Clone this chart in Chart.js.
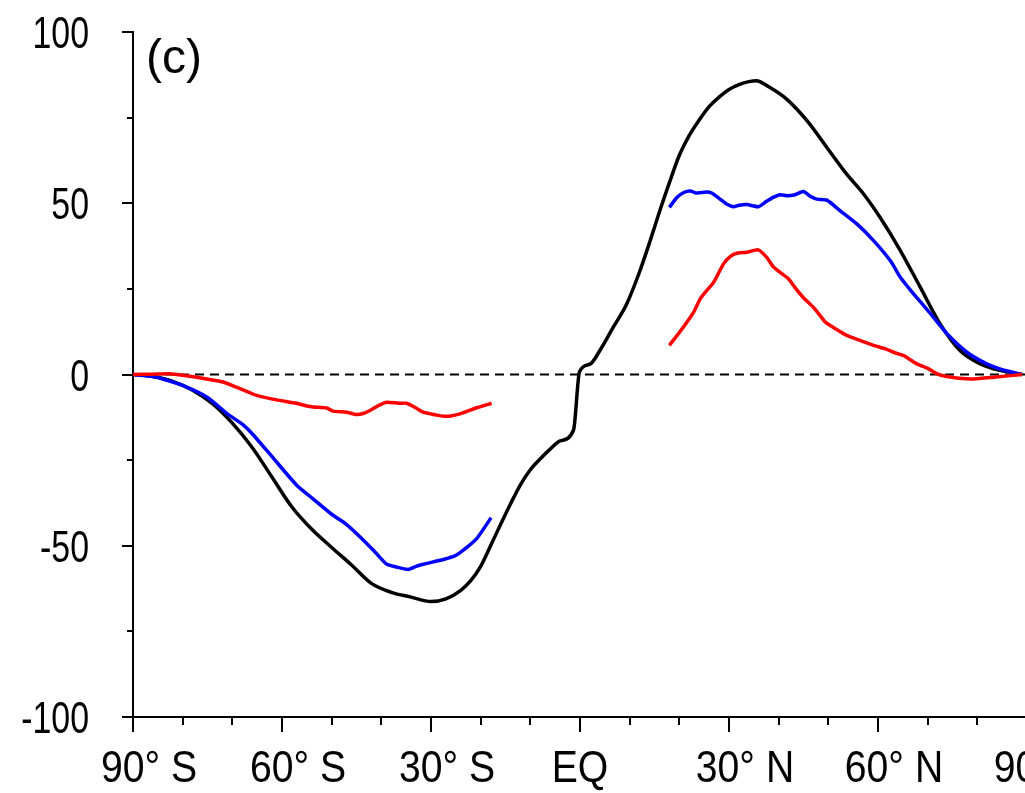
<!DOCTYPE html>
<html>
<head>
<meta charset="utf-8">
<script src="https://cdn.jsdelivr.net/npm/chart.js@4"></script>
<style>
  html, body { margin: 0; padding: 0; background: #fff; overflow: hidden; }
  #wrap { width: 1100px; height: 793px; position: relative; }
</style>
</head>
<body>
<div id="wrap"><canvas id="c"></canvas></div>
<script>
// ---- data (latitude in degrees, negative = south) ----
const xTickValues = [-90, -60, -30, 0, 30, 60, 90];
const xTickLabels = ["90° S", "60° S", "30° S", "EQ", "30° N", "60° N", "90° N"];
const yTickValues = [-100, -50, 0, 50, 100];
const yTickLabels = ["-100", "-50", "0", "50", "100"];

const blackLat = [-90,-86,-82,-78,-74,-70,-66,-62,-58,-54,-50,-46,-42,-38,-34,-30,-27,-24,-22,-20,-18,-16,-14,-12,-10,-8,-6,-4,-1.3,-0.1,2,4,6.7,9.4,12,14,16,18,20,22,24,26,28,30,32,34,35.5,38,41.6,45.7,49.7,53.7,57.1,60.4,64.5,68.5,72.5,76.5,80.6,84.6,89];
const blackVal = [0,-0.6,-2.0,-4.6,-8.5,-14.2,-21.3,-30.0,-38.7,-45.2,-50.5,-55.6,-61.0,-63.6,-65.0,-66.3,-65.5,-63.0,-60.2,-56.0,-50.0,-43.8,-37.8,-32.2,-27.8,-24.6,-21.8,-19.4,-16.2,0.8,3.0,7.0,13.8,20.6,30.0,38.5,47.5,56.0,64.0,69.8,74.3,78.2,81.0,83.2,84.6,85.5,85.8,84.0,80.4,74.1,66.3,58.5,52.7,45.9,36.2,25.5,14.8,7.0,3.1,1.2,0];

const blueLatS = [-90,-86,-84,-80,-75,-71,-68,-66,-62,-57,-54,-50,-47,-45,-41.6,-39,-37,-34.6,-33,-31.6,-27.5,-25,-23.5,-20.8,-17.9];
const blueValS = [0,-0.6,-1.3,-3.2,-6.7,-11.5,-14.5,-17.3,-24.0,-32.4,-36.0,-40.8,-43.8,-46.4,-51.3,-55.3,-56.2,-56.9,-56.0,-55.4,-54.0,-52.8,-51.3,-47.9,-41.8];
const blueLatN = [18.0,19.5,21,22.2,23.3,24.2,25.5,26.5,28.2,29.5,30.9,32,33.6,35.9,37.5,38.9,40.3,41.7,43.3,45.0,46.4,47.7,49.7,52.4,55.8,59.1,62.5,64.5,66,67.2,70.6,73.9,77.9,81.9,85,89];
const blueValN = [48.8,51.7,53.2,53.6,53.0,53.1,53.3,53.0,51.2,49.8,49.0,49.4,49.6,49.0,50.5,51.7,52.5,52.2,52.5,53.4,52.0,51.2,50.9,47.8,43.9,39.1,33.2,28.4,25.6,23.5,17.7,11.9,6.5,3.1,1.4,0];

const redLatS = [-90,-86,-82.6,-77.2,-71.9,-69.2,-67,-65.1,-61.1,-57.1,-55,-53.7,-51,-49.7,-47,-45,-43.5,-42.3,-40.5,-38.9,-36.5,-34.9,-33,-31.6,-29,-27.5,-26,-24.2,-22.5,-20.8,-17.8];
const redValS = [0,0.1,0.2,-0.8,-2.2,-3.7,-5.0,-6.1,-7.4,-8.4,-9.2,-9.5,-9.8,-10.7,-11.0,-11.7,-11.3,-10.5,-9.0,-8.1,-8.4,-8.4,-9.8,-11.0,-11.8,-12.2,-12.1,-11.5,-10.6,-9.7,-8.4];
const redLatN = [18.0,20.8,23,24.2,25.5,26.9,28.9,30.3,31.6,33.6,35.9,37.6,38.9,40.3,42.0,43.5,45.0,47.0,48.3,49.4,51.5,53.7,56.5,59.1,61.5,63.1,65.2,66.5,67.8,70,71.9,73.9,75.9,79.3,83.3,89];
const redValN = [8.5,13.8,18.5,22.1,24.5,26.9,32.3,34.5,35.4,35.7,36.4,34.2,31.5,29.8,27.9,25.0,22.4,19.6,17.3,15.3,13.3,11.4,9.9,8.5,7.5,6.5,5.5,4.3,3.1,1.8,0.2,-0.6,-1.0,-1.3,-0.8,0];

const zeroLat = [-89.6, 90];
const zeroVal = [0, 0];
const panelLabel = "(c)";

// ---- build ----
const pts = (xs, ys) => xs.map((x, i) => ({ x: x, y: ys[i] }));
const withGap = (xa, ya, xb, yb) => pts(xa, ya).concat([{ x: 0, y: null }], pts(xb, yb));

const FONT = "'Liberation Sans', Arial, sans-serif";

function drawText(ctx, text, x, y, align, size, sx) {
  ctx.save();
  ctx.font = size + "px " + FONT;
  ctx.textBaseline = 'alphabetic';
  ctx.textAlign = 'left';
  const w = ctx.measureText(text).width * sx;
  let left = x;
  if (align === 'right') left = x - w;
  else if (align === 'center') left = x - w / 2;
  ctx.translate(left, y);
  ctx.scale(sx, 1);
  ctx.fillText(text, 0, 0);
  ctx.restore();
}

const axisDecor = {
  id: 'axisDecor',
  afterDraw(chart) {
    const ctx = chart.ctx;
    const xs = chart.scales.x, ys = chart.scales.y;
    const area = chart.chartArea;
    ctx.save();
    ctx.strokeStyle = '#000';
    ctx.fillStyle = '#000';
    ctx.lineWidth = 2;
    ctx.beginPath();
    for (let v = -90; v <= 90; v += 10) {
      const px = Math.round(xs.getPixelForValue(v));
      const len = (v % 30 === 0) ? 15 : 8;
      ctx.moveTo(px, area.bottom);
      ctx.lineTo(px, area.bottom + len);
    }
    for (let v = -100; v <= 100; v += 25) {
      const py = Math.round(ys.getPixelForValue(v));
      const len = (v % 50 === 0) ? 11 : 6;
      ctx.moveTo(area.left, py);
      ctx.lineTo(area.left - len, py);
    }
    ctx.stroke();
    xTickValues.forEach((v, i) => {
      const lbl = xTickLabels[i];
      const shift = lbl.indexOf('°') >= 0 ? 16 : 0;
      drawText(ctx, lbl, xs.getPixelForValue(v) + shift, area.bottom + 65, 'center', 44, 0.89);
    });
    yTickValues.forEach((v, i) => {
      drawText(ctx, yTickLabels[i], area.left - 44, ys.getPixelForValue(v) + 16, 'right', 44, 0.77);
    });
    drawText(ctx, panelLabel, area.left + 13, area.top + 41, 'left', 48, 1.0);
    ctx.restore();
  }
};

new Chart(document.getElementById('c'), {
  type: 'line',
  data: {
    datasets: [
      { label: 'red', data: withGap(redLatS, redValS, redLatN, redValN), borderColor: '#ff0000', borderWidth: 3.5, pointRadius: 0, tension: 0.2, spanGaps: false },
      { label: 'blue', data: withGap(blueLatS, blueValS, blueLatN, blueValN), borderColor: '#0000ff', borderWidth: 3.5, pointRadius: 0, tension: 0.2, spanGaps: false },
      { label: 'black', data: pts(blackLat, blackVal), borderColor: '#000000', borderWidth: 3.5, pointRadius: 0, cubicInterpolationMode: 'monotone' },
      { label: 'zero', data: pts(zeroLat, zeroVal), borderColor: '#000000', borderWidth: 2, borderDash: [9, 6], pointRadius: 0 }
    ]
  },
  options: {
    responsive: true,
    maintainAspectRatio: false,
    animation: false,
    events: [],
    layout: { padding: { left: 0, top: 32, right: 73, bottom: 0 } },
    plugins: { legend: { display: false }, tooltip: { enabled: false } },
    scales: {
      x: {
        type: 'linear', min: -90, max: 90,
        afterFit(s) { s.height = 76; s.paddingLeft = 0; s.paddingRight = 0; s.paddingTop = 0; s.paddingBottom = 0; },
        afterBuildTicks(s) { s.ticks = xTickValues.map(v => ({ value: v })); },
        grid: { display: false, drawTicks: false },
        border: { display: true, color: '#000', width: 2 },
        ticks: { display: false }
      },
      y: {
        type: 'linear', min: -100, max: 100,
        afterFit(s) { s.width = 133; s.paddingLeft = 0; s.paddingRight = 0; s.paddingTop = 0; s.paddingBottom = 0; },
        afterBuildTicks(s) { s.ticks = yTickValues.map(v => ({ value: v })); },
        grid: { display: false, drawTicks: false },
        border: { display: true, color: '#000', width: 2 },
        ticks: { display: false }
      }
    }
  },
  plugins: [axisDecor]
});
</script>
</body>
</html>
